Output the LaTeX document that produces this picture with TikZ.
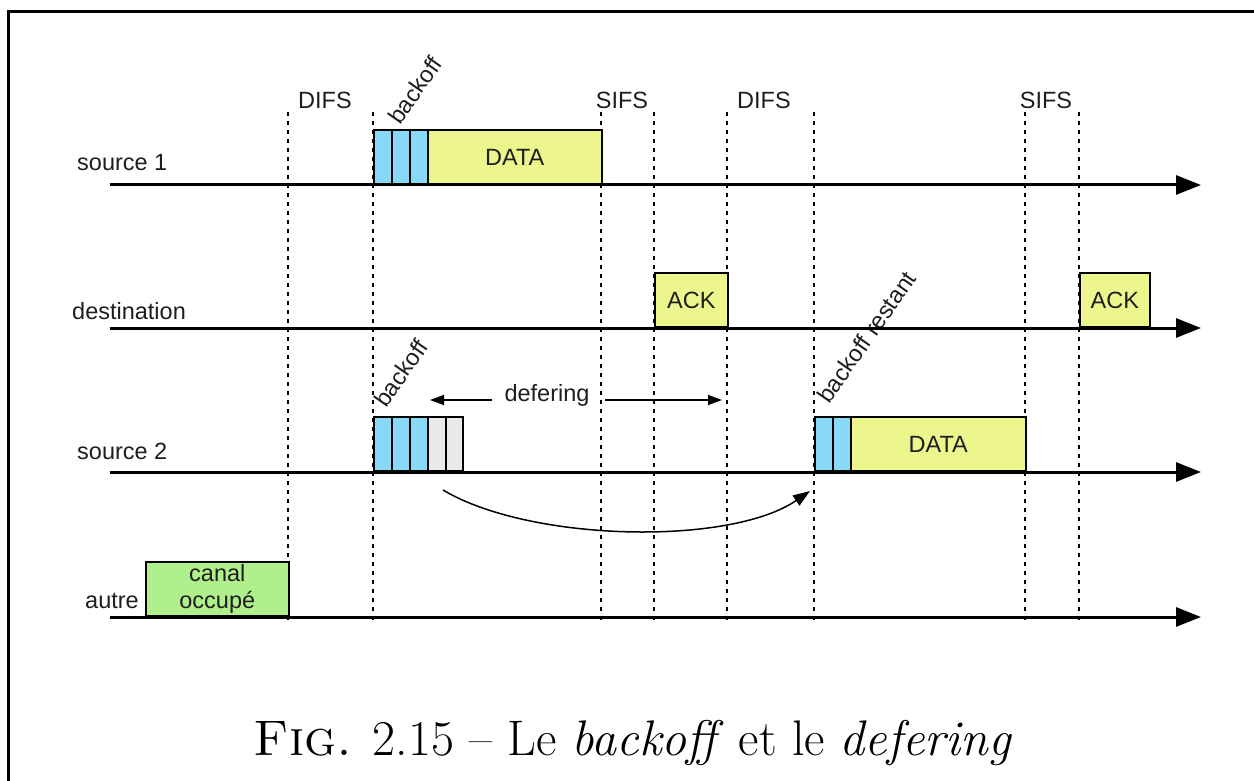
\documentclass[tikz,border=0pt]{standalone}
\usepackage{fontspec}
\newfontfamily\arialf{Liberation Sans}
\usetikzlibrary{arrows.meta}
\definecolor{bko}{RGB}{135,217,247}
\definecolor{dat}{RGB}{237,246,140}
\definecolor{grb}{RGB}{234,234,234}
\definecolor{occ}{RGB}{176,240,140}
\definecolor{txt}{RGB}{30,30,30}
\begin{document}
\begin{tikzpicture}[x=1pt,y=-1pt,
  axis/.style={line width=3pt,-{Triangle[length=25pt,width=19pt]}},
  vdot/.style={line width=2pt,dash pattern=on 4pt off 5pt},
  sans/.style={font=\arialf\fontsize{23.5}{26}\selectfont,text=txt},
  frame/.style={line width=3pt},
  slot/.style={draw,line width=1.6pt,minimum height=54pt,inner sep=0pt,anchor=south west,sans},
  bo/.style={slot,fill=bko,minimum width=18pt},
  gb/.style={slot,fill=grb,minimum width=18pt},
  databox/.style={slot,fill=dat},
  occbox/.style={slot,fill=occ},
  lbl/.style={sans,inner sep=0pt},
  rowlbl/.style={lbl,anchor=base west},
  rot/.style={lbl,anchor=base west,rotate=55},
  darr/.style={line width=1.5pt,-{Triangle[length=14pt,width=10pt]}},
  carr/.style={line width=1.5pt,-{Triangle[length=17pt,width=12pt]}}
]
\useasboundingbox (0,0) rectangle (1254,781);
% frame
\coordinate (fbl) at (8,781);
\coordinate (ftl) at (8,11.5);
\coordinate (ftr) at (1254,11.5);
\draw[frame] (fbl) -- (ftl) -- (ftr);

% dotted verticals
\foreach \x/\n in {288/a,373/b,601/c,654/d,727/e,814/f,1025/g,1079/h}{
  \coordinate (vt\n) at (\x,112);
  \coordinate (vb\n) at (\x,620);
  \draw[vdot] (vt\n) -- (vb\n);
}

% interval labels
\node[lbl,anchor=base] (difs1) at (325,109) {DIFS};
\node[lbl,anchor=base] (sifs1) at (622,109) {SIFS};
\node[lbl,anchor=base] (difs2) at (764,109) {DIFS};
\node[lbl,anchor=base] (sifs2) at (1046,109) {SIFS};
\node[rot] (bo1) at (400,126) {backoff};
\node[rot] (bo2) at (386,409) {backoff};
\node[rot] (bo3) at (829,405) {backoff restant};

% row labels
\node[rowlbl] (ls1) at (77,171) {source 1};
\node[rowlbl] (ld) at (72,319) {destination};
\node[rowlbl] (ls2) at (77,459) {source 2};
\node[rowlbl] (la) at (85,608) {autre};

% source 1
\node[bo] (s1a) at (373,185) {};
\node[bo] (s1b) at (391,185) {};
\node[bo] (s1c) at (409,185) {};
\node[databox,minimum width=174pt] (s1d) at (427,185) {DATA};

% destination
\node[databox,minimum width=73pt] (ack1) at (654,328) {ACK};
\node[databox,minimum width=70pt] (ack2) at (1079,328) {ACK};

% source 2
\node[bo] (s2a) at (373,472) {};
\node[bo] (s2b) at (391,472) {};
\node[bo] (s2c) at (409,472) {};
\node[gb] (s2d) at (427,472) {};
\node[gb,minimum width=17pt] (s2e) at (445,472) {};
\node[bo] (s2f) at (814,472) {};
\node[bo] (s2g) at (832,472) {};
\node[databox,minimum width=175pt] (s2h) at (850,472) {DATA};

% autre
\node[occbox,minimum width=143pt,align=center,font=\arialf\fontsize{23.5}{27}\selectfont] (occ) at (145,617) {canal\\occupé};

% axes
\foreach \y/\n in {185/1,328/2,472/3,617/4}{
  \coordinate (as\n) at (110,\y);
  \coordinate (ae\n) at (1201,\y);
  \draw[axis] (as\n) -- (ae\n);
}

% defering
\node[lbl] (def) at (547,395) {defering};
\coordinate (dl1) at (492,400);
\coordinate (dl2) at (430,400);
\coordinate (dr1) at (605,400);
\coordinate (dr2) at (722,400);
\draw[darr] (dl1) -- (dl2);
\draw[darr] (dr1) -- (dr2);

% curved arrow
\coordinate (c1) at (443,490);
\coordinate (c2) at (810,491);
\draw[carr] (c1) .. controls (530,542) and (730,546) .. (c2);

% caption
\node[anchor=base,inner sep=0pt,font=\fontsize{50}{54}\selectfont] (cap) at (633,755)
  {\textsc{Fig.} 2.15 -- Le \textit{backoff} et le \textit{defering}};
\end{tikzpicture}
\end{document}
